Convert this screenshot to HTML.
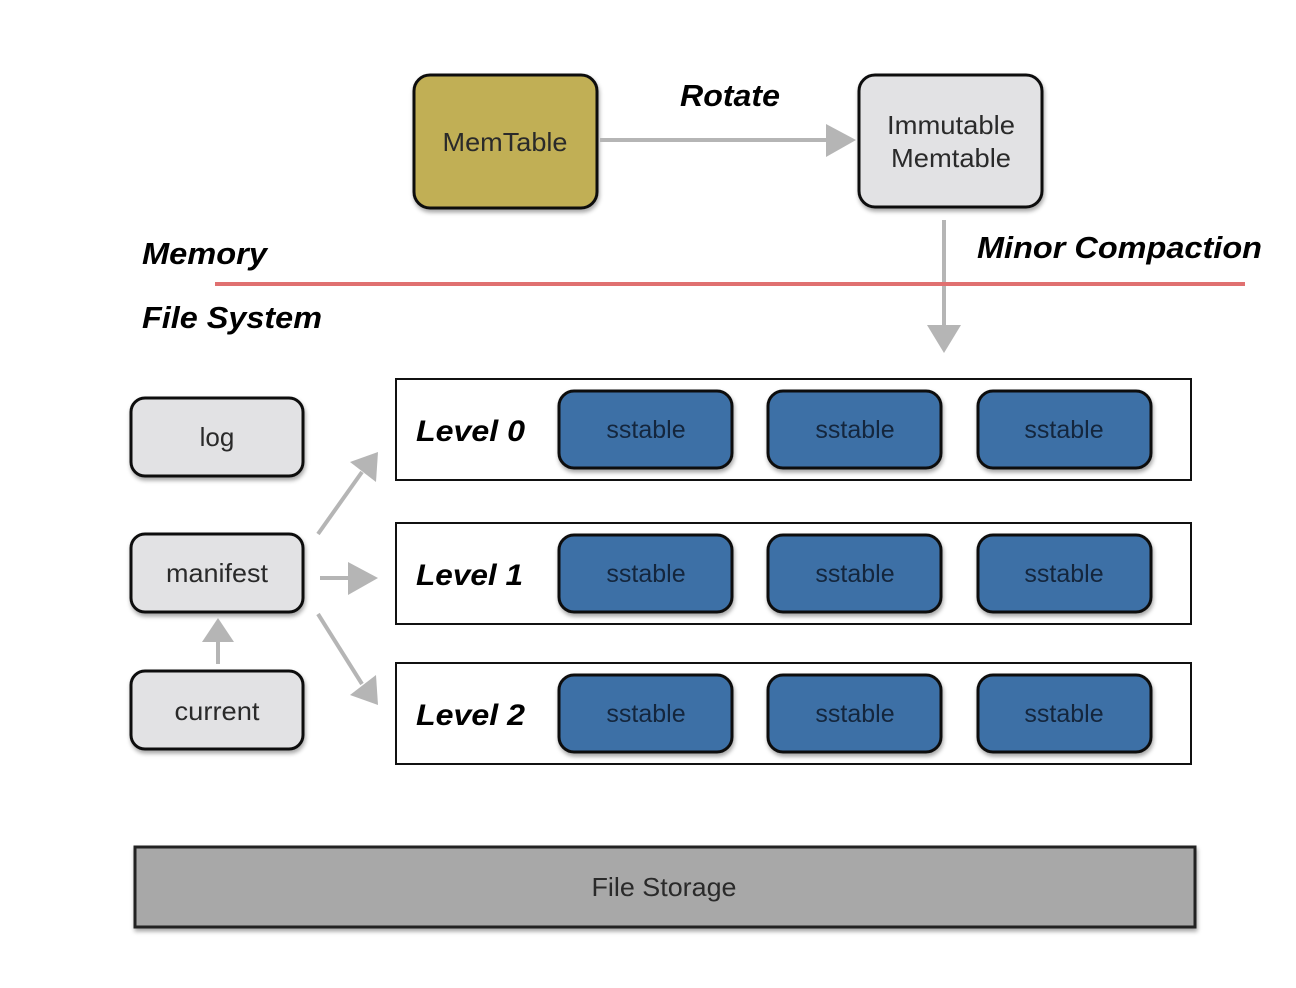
<!DOCTYPE html>
<html><head><meta charset="utf-8"><style>
html,body{margin:0;padding:0;background:#fff}
svg{display:block}
text{font-family:"Liberation Sans",sans-serif}
.b{font-weight:bold;font-style:italic;fill:#000}
.n{fill:#2a2a2a;font-size:26px}
.s{fill:#14263d;font-size:25px}
</style></head><body>
<svg width="1296" height="988" viewBox="0 0 1296 988" xmlns="http://www.w3.org/2000/svg">
<defs>
<filter id="sh" x="-10%" y="-10%" width="130%" height="130%"><feDropShadow dx="1" dy="3" stdDeviation="2" flood-color="#000" flood-opacity="0.35"/></filter>
</defs>
<rect x="414" y="75" width="183" height="133" rx="16" fill="#c1af54" stroke="#111" stroke-width="3" filter="url(#sh)"/>
<text x="505" y="151" text-anchor="middle" class="n" textLength="125" lengthAdjust="spacingAndGlyphs">MemTable</text>
<rect x="859" y="75" width="183" height="132" rx="16" fill="#e2e2e4" stroke="#111" stroke-width="3" filter="url(#sh)"/>
<text x="951" y="134" text-anchor="middle" class="n" textLength="128" lengthAdjust="spacingAndGlyphs">Immutable</text>
<text x="951" y="167" text-anchor="middle" class="n" textLength="120" lengthAdjust="spacingAndGlyphs">Memtable</text>
<text x="730" y="106" text-anchor="middle" class="b" font-size="31" textLength="100" lengthAdjust="spacingAndGlyphs">Rotate</text>
<line x1="600" y1="140" x2="830" y2="140" stroke="#b5b5b5" stroke-width="4"/>
<polygon points="826,124 856,140 826,157" fill="#b5b5b5"/>
<line x1="944" y1="220" x2="944" y2="330" stroke="#b5b5b5" stroke-width="4"/>
<polygon points="927,325 961,325 944,353" fill="#b5b5b5"/>
<text x="142" y="264" class="b" font-size="31" textLength="125" lengthAdjust="spacingAndGlyphs">Memory</text>
<text x="977" y="258" class="b" font-size="31" textLength="285" lengthAdjust="spacingAndGlyphs">Minor Compaction</text>
<line x1="215" y1="284" x2="1245" y2="284" stroke="#e07070" stroke-width="4"/>
<text x="142" y="328" class="b" font-size="31" textLength="180" lengthAdjust="spacingAndGlyphs">File System</text>
<rect x="131" y="398" width="172" height="78" rx="14" fill="#e2e2e4" stroke="#111" stroke-width="3" filter="url(#sh)"/>
<text x="217" y="446" text-anchor="middle" class="n">log</text>
<rect x="131" y="534" width="172" height="78" rx="14" fill="#e2e2e4" stroke="#111" stroke-width="3" filter="url(#sh)"/>
<text x="217" y="582" text-anchor="middle" class="n" textLength="102" lengthAdjust="spacingAndGlyphs">manifest</text>
<rect x="131" y="671" width="172" height="78" rx="14" fill="#e2e2e4" stroke="#111" stroke-width="3" filter="url(#sh)"/>
<text x="217" y="720" text-anchor="middle" class="n" textLength="85" lengthAdjust="spacingAndGlyphs">current</text>
<g stroke="#b5b5b5" stroke-width="4" fill="#b5b5b5">
<line x1="218" y1="664" x2="218" y2="635"/>
<polygon points="202,642 234,642 218,618" stroke="none"/>
<line x1="318" y1="534" x2="362" y2="472"/>
<polygon points="350,462 378,452 376,482" stroke="none"/>
<line x1="320" y1="578" x2="355" y2="578"/>
<polygon points="348,562 378,578 348,595" stroke="none"/>
<line x1="318" y1="614" x2="362" y2="684"/>
<polygon points="350,695 378,705 376,675" stroke="none"/>
</g>
<g>
<rect x="396" y="379" width="795" height="101" fill="#fff" stroke="#111" stroke-width="2"/>
<text x="416" y="441" class="b" font-size="30" textLength="109" lengthAdjust="spacingAndGlyphs">Level 0</text>
<rect x="396" y="523" width="795" height="101" fill="#fff" stroke="#111" stroke-width="2"/>
<text x="416" y="585" class="b" font-size="30" textLength="107" lengthAdjust="spacingAndGlyphs">Level 1</text>
<rect x="396" y="663" width="795" height="101" fill="#fff" stroke="#111" stroke-width="2"/>
<text x="416" y="725" class="b" font-size="30" textLength="109" lengthAdjust="spacingAndGlyphs">Level 2</text>
</g>
<g fill="#3e6fa6" stroke="#111" stroke-width="3" filter="url(#sh)">
<rect x="559" y="391" width="173" height="77" rx="15"/>
<rect x="768" y="391" width="173" height="77" rx="15"/>
<rect x="978" y="391" width="173" height="77" rx="15"/>
<rect x="559" y="535" width="173" height="77" rx="15"/>
<rect x="768" y="535" width="173" height="77" rx="15"/>
<rect x="978" y="535" width="173" height="77" rx="15"/>
<rect x="559" y="675" width="173" height="77" rx="15"/>
<rect x="768" y="675" width="173" height="77" rx="15"/>
<rect x="978" y="675" width="173" height="77" rx="15"/>
</g>
<g class="s" text-anchor="middle">
<text x="646" y="438">sstable</text><text x="855" y="438">sstable</text><text x="1064" y="438">sstable</text>
<text x="646" y="582">sstable</text><text x="855" y="582">sstable</text><text x="1064" y="582">sstable</text>
<text x="646" y="722">sstable</text><text x="855" y="722">sstable</text><text x="1064" y="722">sstable</text>
</g>
<rect x="135" y="847" width="1060" height="80" fill="#a8a8a8" stroke="#222" stroke-width="3" filter="url(#sh)"/>
<text x="664" y="896" text-anchor="middle" class="n" font-size="25" textLength="145" lengthAdjust="spacingAndGlyphs">File Storage</text>
</svg>
</body></html>
